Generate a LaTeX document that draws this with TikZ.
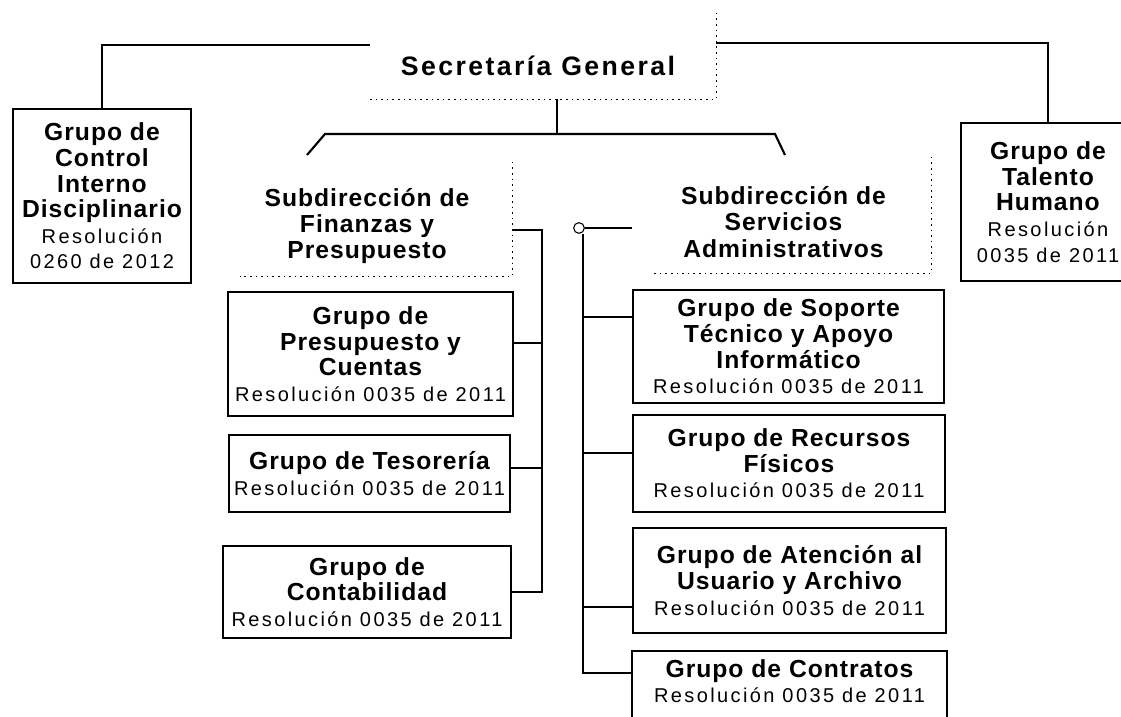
\documentclass[tikz,border=0pt]{standalone}
\usepackage{fontspec}
\setmainfont{Liberation Sans}
\newfontfamily\grpf[LetterSpace=4]{Liberation Sans}
\newfontfamily\resf[LetterSpace=12]{Liberation Sans}
\newfontfamily\titf[LetterSpace=9]{Liberation Sans}
\newcommand\GB[1]{{\grpf\bfseries\fontsize{18.5}{19.2}\selectfont #1}}
\newcommand\GR[1]{{\resf\fontsize{15}{19.2}\selectfont #1}}
\tikzset{
  box/.style 2 args={draw, line width=1.6pt, minimum width=#1*0.75pt, minimum height=#2*0.75pt,
    align=center, inner sep=0pt, font=\fontsize{18.5}{19.2}\selectfont},
  frame/.style 2 args={minimum width=#1*0.75pt, minimum height=#2*0.75pt, inner sep=0pt},
  subt/.style={align=center, inner sep=0pt, font=\fontsize{18.5}{19.8}\selectfont},
  conn/.style={line width=1.6pt},
  dots/.style={line width=0.7pt, dash pattern=on 1.2pt off 3pt},
}
\begin{document}
\begin{tikzpicture}[x=0.75pt,y=-0.75pt]
\useasboundingbox (0,0) rectangle (1121,717);
\fill[white] (0,0) rectangle (1121,717);

% Secretaria General
\node[frame={346}{86}] (secbox) at (543,56) {};
\node[inner sep=0pt, font=\titf\bfseries\fontsize{20}{24}\selectfont] (sec) at (538,66) {Secretaría General};
\draw[dots] (secbox.north east) -- (secbox.south east) -- (secbox.south west);

% side boxes
\node[box={178}{174}] (cid) at (102,196)
  {\GB{Grupo de}\\\GB{Control}\\\GB{Interno}\\\GB{Disciplinario}\\\GR{Resolución}\\\GR{0260 de 2012}};
\node[box={174}{158}] (th) at (1048,202)
  {\GB{Grupo de}\\\GB{Talento}\\\GB{Humano}\\\GR{Resolución}\\\GR{0035 de 2011}};

% subdirecciones
\node[frame={272}{114}] (sfpbox) at (376,219) {};
\node[subt] (sfp) at (367,226) {\GB{Subdirección de}\\\GB{Finanzas y}\\\GB{Presupuesto}};
\draw[dots] (sfpbox.north east) -- (sfpbox.south east) -- (sfpbox.south west);

\node[frame={280}{116}] (ssabox) at (791,215) {};
\node[subt] (ssa) at (783.5,222) {\GB{Subdirección de}\\\GB{Servicios}\\\GB{Administrativos}};
\draw[dots] (ssabox.north east) -- (ssabox.south east) -- (ssabox.south west);

% grupos finanzas
\node[box={285}{124}] (gp) at (370.5,354)
  {\GB{Grupo de}\\\GB{Presupuesto y}\\\GB{Cuentas}\\\GR{Resolución 0035 de 2011}};
\node[box={281}{77}] (gt) at (369.5,473.5)
  {\GB{Grupo de Tesorería}\\\GR{Resolución 0035 de 2011}};
\node[box={288}{92}] (gc) at (367,592)
  {\GB{Grupo de}\\\GB{Contabilidad}\\\GR{Resolución 0035 de 2011}};

% grupos servicios
\node[box={311}{113}] (gs) at (788.5,346.5)
  {\GB{Grupo de Soporte}\\\GB{Técnico y Apoyo}\\\GB{Informático}\\\GR{Resolución 0035 de 2011}};
\node[box={312}{97}] (gr) at (789,463.5)
  {\GB{Grupo de Recursos}\\\GB{Físicos}\\\GR{Resolución 0035 de 2011}};
\node[box={313}{105}] (ga) at (789.5,580.5)
  {\GB{Grupo de Atención al}\\\GB{Usuario y Archivo}\\\GR{Resolución 0035 de 2011}};
\node[box={313}{58}, draw=none] (gk) at (789.5,681)
  {\GB{Grupo de Contratos}\\\GR{Resolución 0035 de 2011}};
\draw[line width=1.6pt] ([yshift=-20pt]gk.south west) -- (gk.north west) -- (gk.north east) -- ([yshift=-20pt]gk.south east);

% connectors top
\draw[conn] (secbox.west |- 0,45) -| (cid.north);
\draw[conn] (secbox.east |- 0,43) -| (th.north);
\coordinate (j) at (557,134);
\draw[conn] (secbox.south -| j) -- (j);
\coordinate (dl) at (307,155);
\coordinate (dr) at (785,155);
\draw[conn] (dl) -- (325,134) -- (775,134) -- (dr);

% finanzas bus
\coordinate (fb) at (542,230);
\draw[conn] (sfpbox.east |- fb) -- (fb) |- (gc.east);
\draw[conn] (gp.east |- 0,343) -- (fb |- 0,343);
\draw[conn] (gt.east |- 0,468) -- (fb |- 0,468);

% servicios bus
\node[circle, draw, line width=0.8pt, minimum size=8pt, inner sep=0pt] (sb) at (579,228) {};
\draw[conn] (sb.east) -- (sb.east -| gs.west);
\coordinate (sv) at (583,673);
\draw[conn] (sb.south -| sv) -- (sv) -- (sv -| gk.west);
\draw[conn] (gs.west |- 0,317) -- (sv |- 0,317);
\draw[conn] (gr.west |- 0,453) -- (sv |- 0,453);
\draw[conn] (ga.west |- 0,607) -- (sv |- 0,607);
\end{tikzpicture}
\end{document}
